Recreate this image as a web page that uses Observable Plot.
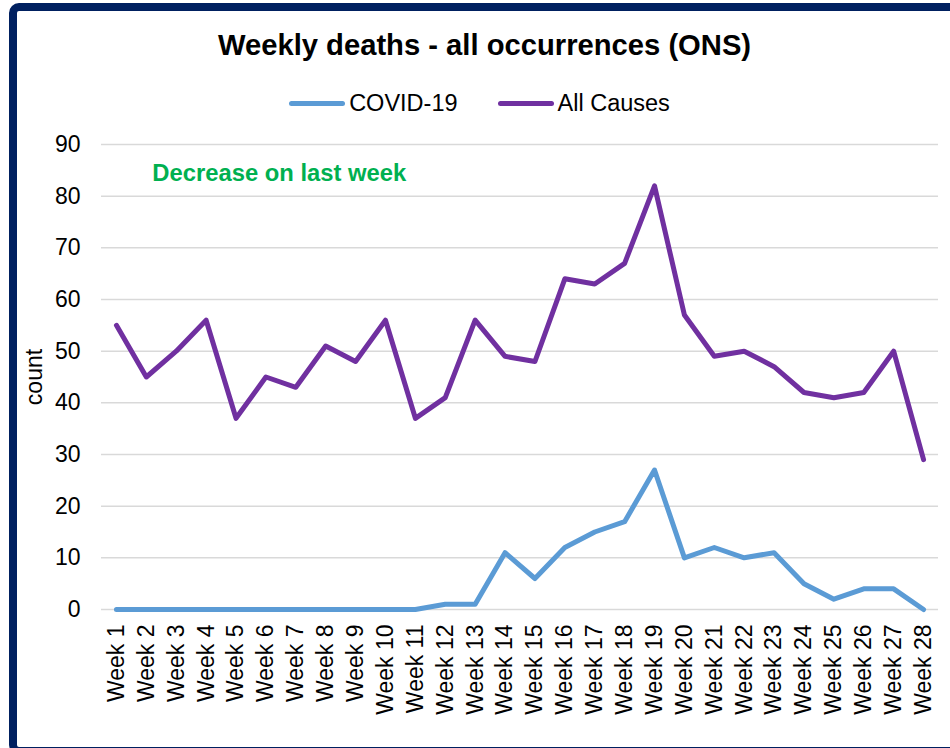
<!DOCTYPE html>
<html>
<head>
<meta charset="utf-8">
<script src="https://cdn.jsdelivr.net/npm/d3@7"></script>
<script src="https://cdn.jsdelivr.net/npm/@observablehq/plot@0.6"></script>
<style>
  html, body { margin: 0; padding: 0; background: #fff; overflow: hidden; width: 950px; height: 748px; }
  #frame {
    position: absolute; left: 9px; top: 3px; width: 970px; height: 752px;
    box-sizing: border-box; border: 8px solid #002060; border-radius: 10px; background: #fff;
  }
  #title {
    height: 64px; line-height: 68px; text-align: center;
    font-family: "Liberation Sans", Arial, sans-serif; font-weight: bold; font-size: 29.2px; color: #000;
    width: 935px;
  }
  #legend {
    height: 50px; width: 933px; display: flex; justify-content: center; align-items: center;
    font-family: "Liberation Sans", Arial, sans-serif; font-size: 23.5px; color: #000;
    padding-top: 6px; padding-right: 8px; box-sizing: border-box;
  }
  .item { display: flex; align-items: center; margin: 0 20px; }
  .sw { width: 56px; height: 5px; border-radius: 3px; margin-right: 4px; }
  #chart { display: block; }
</style>
</head>
<body>
<div id="frame">
  <div id="title"></div>
  <div id="legend"></div>
  <div id="chart"></div>
</div>
<script>
const weeks = ["Week 1","Week 2","Week 3","Week 4","Week 5","Week 6","Week 7","Week 8","Week 9","Week 10",
  "Week 11","Week 12","Week 13","Week 14","Week 15","Week 16","Week 17","Week 18","Week 19","Week 20",
  "Week 21","Week 22","Week 23","Week 24","Week 25","Week 26","Week 27","Week 28"];
const covid = [0,0,0,0,0,0,0,0,0,0,0,1,1,11,6,12,15,17,27,10,12,10,11,5,2,4,4,0];
const allCauses = [55,45,50,56,37,45,43,51,48,56,37,41,56,49,48,64,63,67,82,57,49,50,47,42,41,42,50,29];
const seriesNames = ["COVID-19", "All Causes"];
const seriesColors = ["#5B9BD5", "#7030A0"];
const yTicks = [0,10,20,30,40,50,60,70,80,90];
const titleText = "Weekly deaths - all occurrences (ONS)";
const noteText = "Decrease on last week";
const noteWeek = "Week 2";
const noteValue = 84.4;
const yLabel = "count";

document.getElementById("title").textContent = titleText;
const leg = document.getElementById("legend");
seriesNames.forEach((n, i) => {
  const it = document.createElement("div");
  it.className = "item";
  const sw = document.createElement("div");
  sw.className = "sw";
  sw.style.background = seriesColors[i];
  const t = document.createElement("span");
  t.textContent = n;
  it.appendChild(sw); it.appendChild(t);
  leg.appendChild(it);
});

const data = [];
weeks.forEach((w, i) => {
  data.push({week: w, value: covid[i], series: seriesNames[0]});
});
weeks.forEach((w, i) => {
  data.push({week: w, value: allCauses[i], series: seriesNames[1]});
});
const notes = [{week: noteWeek, value: noteValue, text: noteText}];

const chart = Plot.plot({
  width: 933,
  height: 620,
  marginTop: 19,
  marginBottom: 136,
  marginLeft: 84,
  marginRight: 12,
  style: {fontFamily: "'Liberation Sans', Arial, sans-serif", fontSize: "23px", color: "#000", background: "transparent"},
  x: {type: "point", domain: weeks, padding: 0.5, round: false, label: null},
  y: {domain: [0, 90], ticks: yTicks, label: yLabel},
  color: {domain: seriesNames, range: seriesColors},
  marks: [
    Plot.gridY(yTicks, {stroke: "#d9d9d9", strokeOpacity: 1, strokeWidth: 1.5}),
    Plot.axisY({ticks: yTicks, tickSize: 0, tickPadding: 21, label: yLabel, labelArrow: "none", labelAnchor: "center", labelOffset: 76, fontSize: 23}),
    Plot.axisX({tickSize: 0, tickPadding: 15, tickRotate: -90, fontSize: 23, label: null}),
    Plot.line(data, {x: "week", y: "value", z: "series", stroke: "series", strokeWidth: 5, strokeLinejoin: "round", strokeLinecap: "round"}),
    Plot.text(notes, {x: "week", y: "value", text: "text", textAnchor: "start", dx: 6, fill: "#00B050", fontWeight: "bold", fontSize: 23.8})
  ]
});
document.getElementById("chart").appendChild(chart);
</script>
</body>
</html>
